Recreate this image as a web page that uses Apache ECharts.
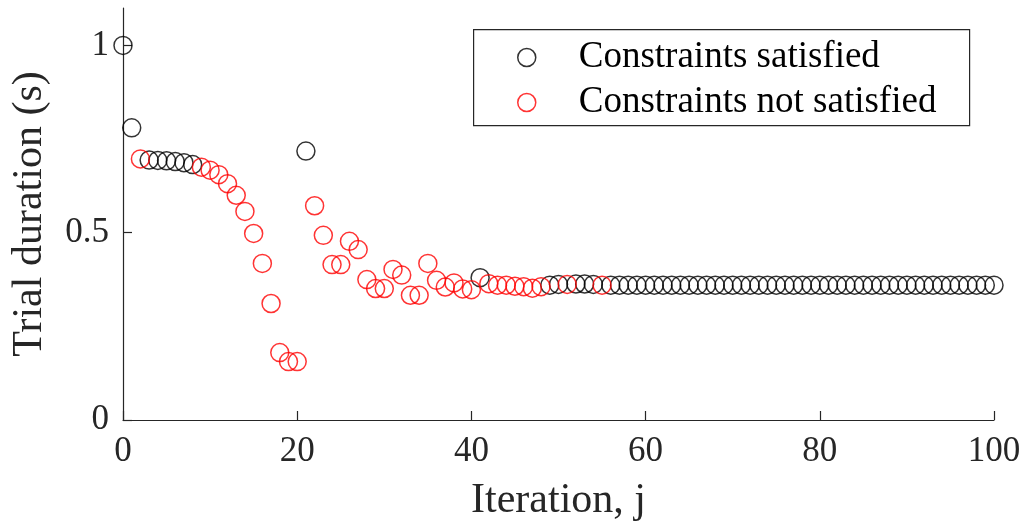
<!DOCTYPE html>
<html>
<head>
<meta charset="utf-8">
<script src="https://cdn.jsdelivr.net/npm/echarts@6/dist/echarts.min.js"></script>
<style>
html,body{margin:0;padding:0;background:#fff;}
#chart{width:1023px;height:525px;}
</style>
</head>
<body>
<div id="chart"></div>
<script>
// Iteration index j = 0..100
var durations = [
  1.000, 0.780, 0.697, 0.694, 0.693, 0.692, 0.690, 0.687, 0.682, 0.675,
  0.667, 0.655, 0.631, 0.600, 0.557, 0.498, 0.418, 0.311, 0.180, 0.156,
  0.156, 0.718, 0.572, 0.493, 0.415, 0.415, 0.477, 0.455, 0.375, 0.351,
  0.351, 0.402, 0.387, 0.333, 0.333, 0.418, 0.373, 0.355, 0.366, 0.350,
  0.348, 0.380, 0.364, 0.360, 0.360, 0.357, 0.356, 0.352, 0.356, 0.360,
  0.362, 0.362, 0.363, 0.363, 0.362, 0.360, 0.360, 0.360, 0.360, 0.360,
  0.360, 0.360, 0.360, 0.360, 0.360, 0.360, 0.360, 0.360, 0.360, 0.360,
  0.360, 0.360, 0.360, 0.360, 0.360, 0.360, 0.360, 0.360, 0.360, 0.360,
  0.360, 0.360, 0.360, 0.360, 0.360, 0.360, 0.360, 0.360, 0.360, 0.360,
  0.360, 0.360, 0.360, 0.360, 0.360, 0.360, 0.360, 0.360, 0.360, 0.360,
  0.360
];
// 1 = constraints satisfied, 0 = not satisfied
var satisfied = [
  1,1,0,1,1,1,1,1,1,0,
  0,0,0,0,0,0,0,0,0,0,
  0,1,0,0,0,0,0,0,0,0,
  0,0,0,0,0,0,0,0,0,0,
  0,1,0,0,0,0,0,0,0,1,
  1,0,1,1,1,0,1,1,1,1,
  1,1,1,1,1,1,1,1,1,1,
  1,1,1,1,1,1,1,1,1,1,
  1,1,1,1,1,1,1,1,1,1,
  1,1,1,1,1,1,1,1,1,1,
  1
];
var xTicks = [0, 20, 40, 60, 80, 100];
var yTicks = [0, 0.5, 1];
var seriesNames = ['Constraints satisfied', 'Constraints not satisfied'];
var axisTitles = {x: 'Iteration, j', y: 'Trial duration (s)'};

var satData = [], notData = [];
for (var i = 0; i < durations.length; i++) {
  if (satisfied[i]) satData.push([i, durations[i]]);
  else notData.push([i, durations[i]]);
}

var FONT = 'Liberation Serif';
var AX = '#262626';
var chart = echarts.init(document.getElementById('chart'), null, {renderer: 'canvas'});
chart.setOption({
  animation: false,
  backgroundColor: '#fff',
  grid: {left: 123, right: 29, top: 8, bottom: 105, containLabel: false, outerBoundsMode: 'none'},
  xAxis: {
    type: 'value', min: 0, max: 100, interval: 20,
    name: axisTitles.x, nameLocation: 'middle', nameGap: 60,
    nameTextStyle: {fontFamily: FONT, fontSize: 42, color: AX},
    axisLine: {show: true, onZero: false, lineStyle: {color: AX, width: 1.2}},
    axisTick: {show: true, inside: true, length: 9, lineStyle: {color: AX, width: 1.2}},
    axisLabel: {fontFamily: FONT, fontSize: 35, color: AX, margin: 14,
      customValues: xTicks},
    splitLine: {show: false}
  },
  yAxis: {
    type: 'value', min: 0, max: 1.1, interval: 0.5,
    name: axisTitles.y, nameLocation: 'middle', nameGap: 72, nameRotate: 90,
    nameTextStyle: {fontFamily: FONT, fontSize: 42, color: AX},
    axisLine: {show: true, onZero: false, lineStyle: {color: AX, width: 1.2}},
    axisTick: {show: true, inside: true, length: 9, lineStyle: {color: AX, width: 1.2},
      customValues: yTicks},
    axisLabel: {fontFamily: FONT, fontSize: 35, color: AX, margin: 14,
      customValues: yTicks},
    splitLine: {show: false}
  },
  legend: {
    show: true,
    orient: 'vertical',
    left: 517, top: 39,
    padding: 0,
    itemWidth: 18, itemHeight: 18, itemGap: 8,
    textStyle: {fontFamily: FONT, fontSize: 37, color: '#000', lineHeight: 37,
      padding: [0, 0, 0, 38]},
    data: [
      {name: seriesNames[0], icon: 'circle',
        itemStyle: {color: 'rgba(0,0,0,0)', borderColor: '#000000', borderWidth: 1.5}},
      {name: seriesNames[1], icon: 'circle',
        itemStyle: {color: 'rgba(0,0,0,0)', borderColor: '#ff0000', borderWidth: 1.5}}
    ]
  },
  graphic: [{
    type: 'rect', left: 473, top: 29, z: 0, silent: true,
    shape: {width: 496, height: 96},
    style: {fill: 'rgba(0,0,0,0)', stroke: AX, lineWidth: 1.2}
  }],
  series: [
    {
      name: seriesNames[0], type: 'scatter', data: satData,
      symbol: 'circle', symbolSize: 18,
      itemStyle: {color: 'rgba(0,0,0,0)', borderColor: '#000000', borderWidth: 1.5},
      emphasis: {disabled: true}, clip: false
    },
    {
      name: seriesNames[1], type: 'scatter', data: notData,
      symbol: 'circle', symbolSize: 18,
      itemStyle: {color: 'rgba(0,0,0,0)', borderColor: '#ff0000', borderWidth: 1.5},
      emphasis: {disabled: true}, clip: false
    }
  ]
});
</script>
</body>
</html>
